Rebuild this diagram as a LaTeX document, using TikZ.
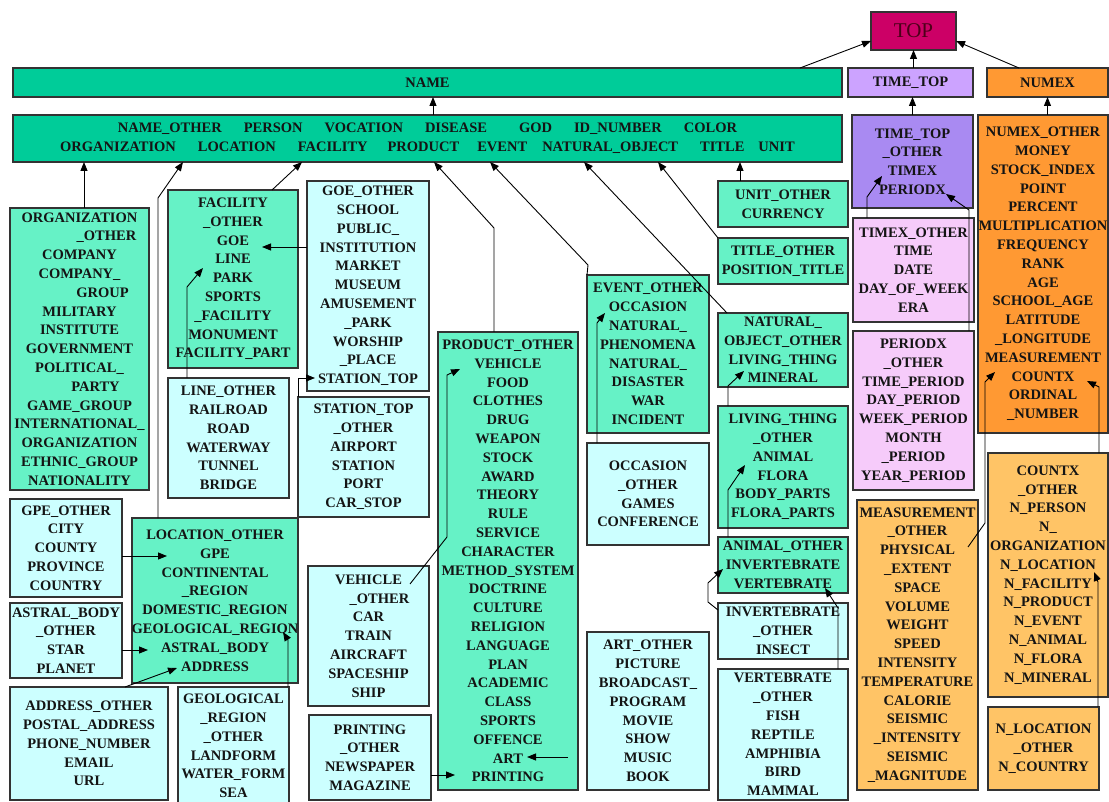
\documentclass[tikz,border=0pt]{standalone}
\usepackage{fontspec}
\setmainfont{Liberation Serif}
\usetikzlibrary{arrows.meta}
\definecolor{bordc}{HTML}{333333}
\definecolor{topc}{HTML}{CC0066}
\definecolor{topt}{HTML}{4D0019}
\definecolor{namec}{HTML}{00CC99}
\definecolor{grnc}{HTML}{66F2C6}
\definecolor{cyanc}{HTML}{CCFFFF}
\definecolor{tthc}{HTML}{CCA3FF}
\definecolor{ttoc}{HTML}{A98AF2}
\definecolor{pinkc}{HTML}{F6CBFA}
\definecolor{numc}{HTML}{FF9933}
\definecolor{lorc}{HTML}{FFC466}
\definecolor{txt}{HTML}{141414}
\newcommand{\ovr}[1]{\makebox[0pt]{#1}}
\begin{document}
\begin{tikzpicture}[x=1pt,y=-1pt,
  box/.style={draw=bordc,line width=1.2pt,inner sep=0pt,outer sep=0pt,align=center,anchor=north west,text=txt,font=\bfseries\fontsize{14.5}{18.8}\selectfont},
  sz/.style 2 args={text width=#1pt,minimum height=#2pt},
  con/.style={line width=0.9pt,-{Triangle[length=9pt,width=7pt]}}]
\useasboundingbox (0,0) rectangle (1109,802);
\node[box,sz={85}{38},fill=topc,text=topt,font=\fontsize{21}{24}\selectfont] (top) at (871,12) {TOP};
\node[box,sz={829}{29},fill=namec] (name) at (13,68) {NAME};
\node[box,sz={125}{29},fill=tthc] (timetop) at (848,68) {TIME\_TOP};
\node[box,sz={121}{29},fill=numc] (numex) at (987,68) {NUMEX};
\node[box,sz={829}{47},fill=namec] (nameo) at (13,115) {NAME\_OTHER\hspace{22pt}PERSON\hspace{22pt}VOCATION\hspace{22pt}DISEASE\hspace{32pt}GOD\hspace{22pt}ID\_NUMBER\hspace{22pt}COLOR\\ORGANIZATION\hspace{22pt}LOCATION\hspace{22pt}FACILITY\hspace{20pt}PRODUCT\hspace{18pt}EVENT\hspace{15pt}NATURAL\_OBJECT\hspace{22pt}TITLE\hspace{14pt}UNIT};
\node[box,sz={139}{282},fill=grnc] (orgo) at (10,208) {ORGANIZATION\\\hspace*{54pt}\_OTHER\\COMPANY\\COMPANY\_\\\hspace*{46pt}GROUP\\MILITARY\\INSTITUTE\\GOVERNMENT\\POLITICAL\_\\\hspace*{32pt}PARTY\\GAME\_GROUP\\INTERNATIONAL\_\\ORGANIZATION\\ETHNIC\_GROUP\\NATIONALITY};
\node[box,sz={130}{178},fill=grnc] (faco) at (168,190) {FACILITY\\\_OTHER\\GOE\\LINE\\PARK\\SPORTS\\\_FACILITY\\MONUMENT\\FACILITY\_PART};
\node[box,sz={122}{210},fill=cyanc] (goeo) at (307,181) {GOE\_OTHER\\SCHOOL\\PUBLIC\_\\INSTITUTION\\MARKET\\MUSEUM\\AMUSEMENT\\\_PARK\\WORSHIP\\\_PLACE\\STATION\_TOP};
\node[box,sz={121}{120},fill=cyanc] (lineo) at (168,378) {LINE\_OTHER\\RAILROAD\\ROAD\\WATERWAY\\TUNNEL\\BRIDGE};
\node[box,sz={131}{120},fill=cyanc] (stno) at (298,397) {STATION\_TOP\\\_OTHER\\AIRPORT\\STATION\\PORT\\CAR\_STOP};
\node[box,sz={112}{98},fill=cyanc] (gpeo) at (10,499) {GPE\_OTHER\\CITY\\COUNTY\\PROVINCE\\COUNTRY};
\node[box,sz={166}{165},fill=grnc] (loco) at (132,518) {LOCATION\_OTHER\\GPE\\CONTINENTAL\\\_REGION\\DOMESTIC\_REGION\\\ovr{GEOLOGICAL\_REGION}\\ASTRAL\_BODY\\ADDRESS};
\node[box,sz={112}{75},fill=cyanc] (astro) at (10,603) {ASTRAL\_BODY\\\_OTHER\\STAR\\PLANET};
\node[box,sz={158}{113},fill=cyanc] (addro) at (10,687) {ADDRESS\_OTHER\\POSTAL\_ADDRESS\\PHONE\_NUMBER\\EMAIL\\URL};
\node[box,sz={111}{118},fill=cyanc] (geoo) at (178,687) {GEOLOGICAL\\\_REGION\\\_OTHER\\LANDFORM\\WATER\_FORM\\SEA};
\node[box,sz={121}{140},fill=cyanc] (vehio) at (308,566) {VEHICLE\\\hspace*{22pt}\_OTHER\\CAR\\TRAIN\\AIRCRAFT\\SPACESHIP\\SHIP};
\node[box,sz={122}{85},fill=cyanc] (printo) at (309,715) {PRINTING\\\_OTHER\\NEWSPAPER\\MAGAZINE};
\node[box,sz={140}{458},fill=grnc] (prodo) at (438,332) {PRODUCT\_OTHER\\VEHICLE\\FOOD\\CLOTHES\\DRUG\\WEAPON\\STOCK\\AWARD\\THEORY\\RULE\\SERVICE\\CHARACTER\\METHOD\_SYSTEM\\DOCTRINE\\CULTURE\\RELIGION\\LANGUAGE\\PLAN\\ACADEMIC\\CLASS\\SPORTS\\OFFENCE\\ART\\PRINTING};
\node[box,sz={122}{158},fill=grnc] (evento) at (587,275) {EVENT\_OTHER\\OCCASION\\NATURAL\_\\PHENOMENA\\NATURAL\_\\DISASTER\\WAR\\INCIDENT};
\node[box,sz={122}{102},fill=cyanc] (occo) at (587,443) {OCCASION\\\_OTHER\\GAMES\\CONFERENCE};
\node[box,sz={122}{158},fill=cyanc] (arto) at (587,632) {ART\_OTHER\\PICTURE\\BROADCAST\_\\PROGRAM\\MOVIE\\SHOW\\MUSIC\\BOOK};
\node[box,sz={130}{46},fill=grnc] (unito) at (718,181) {UNIT\_OTHER\\CURRENCY};
\node[box,sz={130}{46},fill=grnc] (titleo) at (718,238) {TITLE\_OTHER\\POSITION\_TITLE};
\node[box,sz={130}{74},fill=grnc] (nato) at (718,313) {NATURAL\_\\OBJECT\_OTHER\\LIVING\_THING\\MINERAL};
\node[box,sz={130}{122},fill=grnc] (livo) at (718,406) {LIVING\_THING\\\_OTHER\\ANIMAL\\FLORA\\BODY\_PARTS\\FLORA\_PARTS};
\node[box,sz={130}{56},fill=grnc] (animo) at (718,537) {ANIMAL\_OTHER\\INVERTEBRATE\\VERTEBRATE};
\node[box,sz={130}{56},fill=cyanc] (inverto) at (718,603) {INVERTEBRATE\\\_OTHER\\INSECT};
\node[box,sz={130}{131},fill=cyanc] (verto) at (718,669) {VERTEBRATE\\\_OTHER\\FISH\\REPTILE\\AMPHIBIA\\BIRD\\MAMMAL};
\node[box,sz={121}{93},fill=ttoc] (timetopo) at (852,115) {TIME\_TOP\\\_OTHER\\TIMEX\\PERIODX};
\node[box,sz={121}{104},fill=pinkc] (timexo) at (853,218) {TIMEX\_OTHER\\TIME\\DATE\\DAY\_OF\_WEEK\\ERA};
\node[box,sz={121}{159},fill=pinkc] (periodo) at (853,331) {PERIODX\\\_OTHER\\TIME\_PERIOD\\DAY\_PERIOD\\WEEK\_PERIOD\\MONTH\\\_PERIOD\\YEAR\_PERIOD};
\node[box,sz={130}{318},fill=numc] (numexo) at (978,115) {NUMEX\_OTHER\\MONEY\\STOCK\_INDEX\\POINT\\PERCENT\\\ovr{MULTIPLICATION}\\FREQUENCY\\RANK\\AGE\\SCHOOL\_AGE\\LATITUDE\\\_LONGITUDE\\MEASUREMENT\\COUNTX\\ORDINAL\\\_NUMBER};
\node[box,sz={121}{290},fill=lorc] (measo) at (857,500) {MEASUREMENT\\\_OTHER\\PHYSICAL\\\_EXTENT\\SPACE\\VOLUME\\WEIGHT\\SPEED\\INTENSITY\\TEMPERATURE\\CALORIE\\SEISMIC\\\_INTENSITY\\SEISMIC\\\_MAGNITUDE};
\node[box,sz={120}{244},fill=lorc] (countxo) at (988,453) {COUNTX\\\_OTHER\\N\_PERSON\\N\_\\ORGANIZATION\\N\_LOCATION\\N\_FACILITY\\N\_PRODUCT\\N\_EVENT\\N\_ANIMAL\\N\_FLORA\\N\_MINERAL};
\node[box,sz={111}{83},fill=lorc] (nloco) at (988,707) {N\_LOCATION\\\_OTHER\\N\_COUNTRY};
\draw[con] (800,0 |- name.north) -- (top.west |- 0,41);
\draw[con] (timetop.north -| top.south) -- (top.south);
\draw[con] (1019,0 |- numex.north) -- (top.east |- 0,41);
\draw[con] (433,0 |- nameo.north) -- (433,0 |- name.south);
\draw[con] (timetopo.north) -- (timetopo.north |- timetop.south);
\draw[con] (numexo.north -| numex.south) -- (numex.south);
\draw[con] (84,0 |- orgo.north) -- (84,0 |- nameo.south);
\draw[con] (158,0 |- loco.north) -- (158,198) -- (183,0 |- nameo.south);
\draw[con] (272,0 |- faco.north) -- (302,0 |- nameo.south);
\draw[con] (494,0 |- prodo.north) -- (494,228) -- (434,0 |- nameo.south);
\draw[con] (evento.north west) -- (588,265) -- (490,0 |- nameo.south);
\draw[con] (727,0 |- nato.north) -- (584,0 |- nameo.south);
\draw[con] (titleo.north west) -- (658,0 |- nameo.south);
\draw[con] (740,0 |- unito.north) -- (740,0 |- nameo.south);
\coordinate (goet) at (262,247);
\coordinate (linet) at (203,268);
\coordinate (stnt) at (315,378);
\coordinate (gpet) at (167,556);
\coordinate (astrt) at (148,650);
\coordinate (addrt) at (177,668);
\coordinate (geot) at (283,632);
\coordinate (vehis) at (410,584);
\coordinate (vehit) at (460,369);
\coordinate (printt) at (455,775);
\coordinate (arts) at (568,757);
\coordinate (artt) at (527,757);
\coordinate (occt) at (605,313);
\coordinate (livt) at (744,371);
\coordinate (animt) at (745,465);
\coordinate (invt) at (723,569);
\coordinate (vertt) at (825,588);
\coordinate (timext) at (882,176);
\coordinate (periodt) at (946,194);
\coordinate (meass) at (968,547);
\coordinate (meast) at (995,372);
\coordinate (countxt) at (1087,381);
\coordinate (nloct) at (1094,572);
\draw[con] (goeo.west |- goet) -- (goet);
\draw[con] (187,0 |- lineo.north) -- (187,287) -- (linet);
\draw[con] (stno.north west) -- (stno.west |- stnt) -- (stnt);
\draw[con] (gpeo.east |- gpet) -- (gpet);
\draw[con] (astro.east |- astrt) -- (astrt);
\draw[con] (125,0 |- addro.north) -- (addrt);
\draw[con] (288,0 |- geoo.north) -- (288,640) -- (geot);
\draw[con] (vehis) -- (447,537) -- (447,375) -- (vehit);
\draw[con] (printo.east |- printt) -- (printt);
\draw[con] (arts) -- (artt);
\draw[con] (597,0 |- occo.north) -- (597,323) -- (occt);
\draw[con] (728,0 |- livo.north) -- (728,386) -- (livt);
\draw[con] (728,0 |- animo.north) -- (728,490) -- (animt);
\draw[con] (inverto.west |- 0,610) -- (708,602) -- (708,583) -- (invt);
\draw[con] (838,0 |- verto.north) -- (838,608) -- (vertt);
\draw[con] (867,0 |- timexo.north) -- (867,197) -- (timext);
\draw[con] (969,0 |- periodo.north) -- (969,210) -- (periodt);
\draw[con] (meass) -- (985,523) -- (985,382) -- (meast);
\draw[con] (1099,0 |- countxo.north) -- (1099,387) -- (countxt);
\draw[con] (1098,0 |- nloco.north) -- (1098,582) -- (nloct);
\end{tikzpicture}
\end{document}
